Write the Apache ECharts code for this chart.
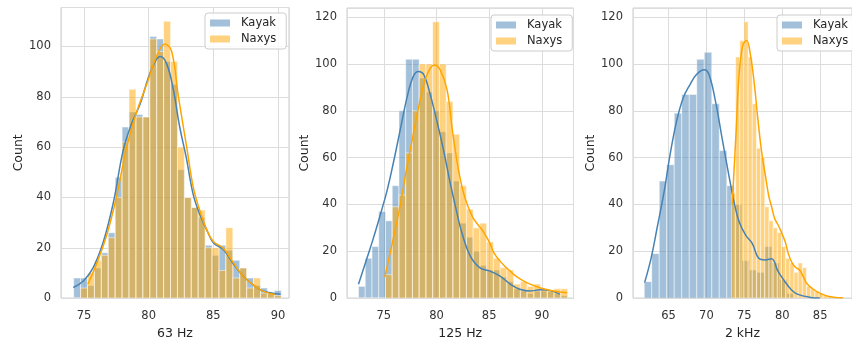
<!DOCTYPE html>
<html><head><meta charset="utf-8">
<script src="https://cdn.jsdelivr.net/npm/echarts@6/dist/echarts.min.js"></script>
<style>html,body{margin:0;padding:0;background:#fff}#c{width:852px;height:345px}</style>
</head><body><div id="c"></div>
<script>
// ---------- data ----------
const seriesNames = ['Kayak', 'Naxys'];
const xTitles = ['63 Hz', '125 Hz', '2 kHz'];
const yTitle = 'Count';

// panel 1 : 63 Hz (common bins)
const p1BinStart = 74.2, p1BinWidth = 0.535;
const p1Kayak = [8,8,5,12,18,26,48,68,74,73,72,104,103,94,85,51,40,36,32,21,17,21,19,15,12,8,5,4,2,3];
const p1Naxys = [0,4,10,15,17,24,40,62,83,72,72,103,98,110,94,60,40,36,35,20,20,11,28,8,12,4,8,2,2,1];
const p1KayakKde = [[74.17,4.2],[74.95,6.8],[75.7,12],[76.5,22.5],[77.27,38],[78.04,59],[78.7,69.6],[79.33,77],[79.97,87.6],[80.5,94],[80.9,96],[81.4,93],[81.9,83],[82.4,68],[82.9,56],[83.45,41],[83.97,33],[84.5,27],[85.0,22],[85.77,19.3],[86.55,13.5],[87.1,10],[87.6,7.3],[88.6,3.4],[89.5,2],[90.2,1.5]];
const p1NaxysKde = [[75.3,5.5],[76.0,14],[76.75,25],[77.5,40],[78.3,60],[79.07,74],[79.85,85],[80.6,96],[81.26,101],[81.78,98],[82.3,80],[82.94,60],[83.45,44],[83.97,34.5],[84.5,27],[85.0,22.5],[85.77,19.8],[86.55,14],[87.1,10],[87.6,7.3],[88.6,3.4],[89.77,1.4]];

// panel 2 : 125 Hz (common bins)
const p2BinStart = 72.6, p2BinWidth = 0.64;
const p2Kayak = [5,17,22,37,33,48,80,102,102,94,88,80,71,62,50,32,26,20,14,12,12,9,7,4,3,2,3,3,3,2,1];
const p2Naxys = [0,0,0,0,10,39,44,62,80,100,100,118,100,84,70,48,38,30,32,24,17,13,12,6,7,5,6,4,3,4,4];
const p2KayakKde = [[72.6,5.9],[73.4,17],[74.0,25.4],[74.65,35.3],[75.3,45.7],[75.9,57.6],[76.55,71.6],[77.2,85.6],[77.8,94.7],[78.3,96.8],[78.8,95.4],[79.4,87],[80.03,75.8],[80.67,63.2],[81.3,49.2],[81.93,36.6],[82.4,28],[83.2,18],[84.1,13],[85.1,11.5],[86.0,9.5],[87.0,6],[87.9,3.8],[88.9,3],[89.8,3.6],[90.8,3.2],[91.7,1.7]];
const p2NaxysKde = [[75.1,9],[75.9,25.4],[76.55,39.4],[77.2,56],[77.8,70],[78.5,85.6],[79.1,95.4],[79.8,99.6],[80.35,97.5],[81.0,89],[81.5,72],[82.0,57],[82.5,46],[83.0,39],[83.5,34],[84.0,31],[84.5,28],[85.0,24],[85.5,19],[86.0,16],[86.5,13.5],[87.0,11.5],[87.5,9.5],[88.0,8],[88.6,6.5],[89.8,4.4],[91.1,3],[92.4,2.3]];

// panel 3 : 2 kHz (separate bins)
const p3KayakStart = 61.8, p3KayakWidth = 0.99;
const p3Kayak = [7,19,50,57,79,87,87,102,105,83,63,48,40,16,12,11,22,15,8,2];
const p3NaxysStart = 73.3, p3NaxysWidth = 0.55;
const p3Naxys = [45,103,110,118,103,83,64,60,39,33,30,28,22,17,15,11,15,13,5,4,3,2,1,1];
const p3KayakKde = [[61.85,6.6],[62.7,17],[63.56,31],[64.4,45],[65.25,62],[66.1,76],[66.95,85.6],[67.8,91],[68.66,95.4],[69.7,97.5],[70.35,95.4],[71.2,84],[72.04,68.8],[72.9,53.5],[73.75,39.5],[74.34,32.4],[75.2,26.8],[76.04,23.4],[76.9,17],[77.74,16.3],[78.6,16.8],[79.43,11.5],[80.29,7.3],[81.14,3.8],[81.98,1.7],[83.69,0.3],[84.96,0.05]];
const p3NaxysKde = [[73.4,40],[73.9,70],[74.3,95],[74.8,108],[75.3,110],[75.8,104],[76.3,92],[76.8,76],[77.3,62],[77.8,52],[78.2,44],[78.6,39],[79.0,34],[79.5,31],[79.9,28],[80.4,24],[80.8,19],[81.3,15],[81.8,13],[82.3,12],[82.8,9],[83.3,6],[84.0,4],[85.0,2],[86.0,0.8],[87.0,0.3],[88.0,0.1]];

// ---------- styling ----------
const fillColors = ['rgba(70,130,180,0.5)', 'rgba(255,165,0,0.5)'];
const lineColors = ['#4682b4', '#ffa500'];
const FONT = 'DejaVu Sans';

function bins(start, width, counts) {
  return counts.map((c, i) => [start + i * width, start + (i + 1) * width, c]);
}

function histItem(params, api) {
  const a = api.coord([api.value(0), api.value(2)]);
  const b = api.coord([api.value(1), 0]);
  return {
    type: 'rect',
    shape: { x: a[0], y: a[1], width: b[0] - a[0], height: b[1] - a[1] },
    style: { fill: api.visual('color'), stroke: 'rgba(255,255,255,0.85)', lineWidth: 0.6 }
  };
}

const panels = [
  { grid: { left: 61, top: 7.5, width: 228, height: 296.5 }, xmin: 73.22, xmax: 90.85, ymax: 115.5,
    hist: [bins(p1BinStart, p1BinWidth, p1Kayak), bins(p1BinStart, p1BinWidth, p1Naxys)],
    kde: [p1KayakKde, p1NaxysKde], legendLeft: 205, legendTop: 13 },
  { grid: { left: 347, top: 8, width: 226.5, height: 296 }, xmin: 71.51, xmax: 93.0, ymax: 123.9,
    hist: [bins(p2BinStart, p2BinWidth, p2Kayak), bins(p2BinStart, p2BinWidth, p2Naxys)],
    kde: [p2KayakKde, p2NaxysKde], legendLeft: 491, legendTop: 15 },
  { grid: { left: 633, top: 8, width: 227, height: 296 }, xmin: 60.32, xmax: 89.2, ymax: 123.9,
    hist: [bins(p3KayakStart, p3KayakWidth, p3Kayak), bins(p3NaxysStart, p3NaxysWidth, p3Naxys)],
    kde: [p3KayakKde, p3NaxysKde], legendLeft: 777, legendTop: 15 }
];

const option = { animation: false, backgroundColor: '#fff', grid: [], xAxis: [], yAxis: [], series: [], legend: [] };

panels.forEach((p, k) => {
  option.grid.push(Object.assign({ show: true, borderColor: '#cccccc', borderWidth: 1, backgroundColor: 'transparent' }, p.grid));
  option.xAxis.push({
    type: 'value', gridIndex: k, min: p.xmin, max: p.xmax, splitNumber: 4, minInterval: 5, maxInterval: 5,
    name: xTitles[k], nameLocation: 'middle', nameGap: 28,
    nameTextStyle: { fontFamily: FONT, fontSize: 12.5, color: '#262626' },
    axisLine: { show: false }, axisTick: { show: false },
    axisLabel: { showMinLabel: false, showMaxLabel: false, margin: 12, fontFamily: FONT, fontSize: 11.5, color: '#333333' },
    splitLine: { show: true, lineStyle: { color: '#dcdcdc', width: 1 } }
  });
  option.yAxis.push({
    type: 'value', gridIndex: k, min: 0, max: p.ymax, interval: 20,
    name: yTitle, nameLocation: 'middle', nameGap: 36, nameRotate: 90,
    nameTextStyle: { fontFamily: FONT, fontSize: 12.5, color: '#262626' },
    axisLine: { show: false }, axisTick: { show: false },
    axisLabel: { showMaxLabel: false, margin: 10, fontFamily: FONT, fontSize: 11.5, color: '#333333' },
    splitLine: { show: true, lineStyle: { color: '#dcdcdc', width: 1 } }
  });
  seriesNames.forEach((nm, j) => {
    option.series.push({
      type: 'custom', name: nm, xAxisIndex: k, yAxisIndex: k, clip: true,
      renderItem: histItem, encode: { x: [0, 1], y: 2 },
      itemStyle: { color: fillColors[j] }, data: p.hist[j], z: 2
    });
  });
  seriesNames.forEach((nm, j) => {
    option.series.push({
      type: 'line', name: nm + ' kde', xAxisIndex: k, yAxisIndex: k, smooth: 0.4, showSymbol: false,
      clip: true, lineStyle: { color: lineColors[j], width: 1.5 }, itemStyle: { color: lineColors[j] },
      data: p.kde[j], z: 3
    });
  });
  option.legend.push({
    data: seriesNames, orient: 'vertical', left: p.legendLeft, top: p.legendTop,
    icon: 'rect', itemWidth: 20, itemHeight: 7, itemGap: 4,
    padding: [4, 10, 4, 5], borderColor: '#cccccc', borderWidth: 1, borderRadius: 3,
    backgroundColor: 'rgba(255,255,255,0.85)',
    textStyle: { fontFamily: FONT, fontSize: 11.5, color: '#262626', padding: [0, 0, 0, 6] },
    selectedMode: false
  });
});

const chart = echarts.init(document.getElementById('c'), null, { renderer: 'canvas' });
chart.setOption(option);
</script>
</body></html>
